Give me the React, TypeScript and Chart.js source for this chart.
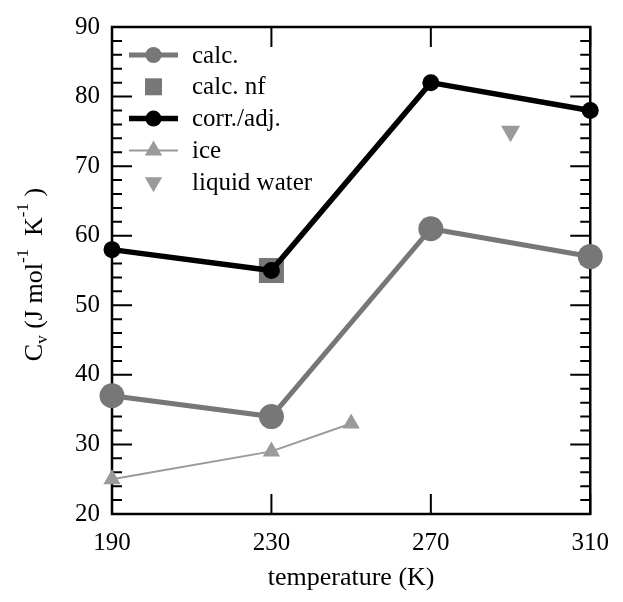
import React, { useEffect, useRef } from 'react';
import { Chart, registerables } from 'chart.js';

Chart.register(...registerables);

const FONT = '"Liberation Serif", serif';

const temps = [190, 230, 270, 310];
const calcValues = [37, 34, 61, 57];
const corrValues = [58, 55, 82, 78];
const calcNfTemps = [230];
const calcNfValues = [55];
const iceTemps = [190, 230, 250];
const iceValues = [25, 29, 33];
const liquidTemps = [290];
const liquidValues = [75];
const xTickValues = [190, 230, 270, 310];
const yMajorStep = 10;
const yMinorStep = 2;
const seriesLabels = ['calc.', 'calc. nf', 'corr./adj.', 'ice', 'liquid water'];
const xTitle = 'temperature (K)';

const toPoints = (xs: number[], ys: number[]) => xs.map((x, i) => ({ x, y: ys[i] }));

function drawMarker(ctx: CanvasRenderingContext2D, style: string, rotation: number, r: number, x: number, y: number) {
  ctx.beginPath();
  if (style === 'circle') {
    ctx.arc(x, y, r, 0, Math.PI * 2);
  } else if (style === 'rect') {
    const s = Math.SQRT1_2 * r;
    ctx.rect(x - s, y - s, 2 * s, 2 * s);
  } else if (style === 'triangle') {
    let rad = (rotation * Math.PI) / 180;
    for (let k = 0; k < 3; k++) {
      const px = x + Math.sin(rad) * r;
      const py = y - Math.cos(rad) * r;
      if (k === 0) ctx.moveTo(px, py);
      else ctx.lineTo(px, py);
      rad += (2 * Math.PI) / 3;
    }
    ctx.closePath();
  }
  ctx.fill();
}

const framePlugin = {
  id: 'frameTicks',
  beforeDatasetsDraw(chart: any) {
    const { ctx, chartArea } = chart;
    const { left, right, top, bottom } = chartArea;
    const xs = chart.scales.x;
    const ys = chart.scales.y;
    ctx.save();
    ctx.strokeStyle = '#000';
    ctx.lineWidth = 2.5;
    ctx.strokeRect(left, top, right - left, bottom - top);
    ctx.lineWidth = 2;
    ctx.beginPath();
    for (const v of xTickValues) {
      const px = xs.getPixelForValue(v);
      ctx.moveTo(px, bottom);
      ctx.lineTo(px, bottom - 20);
      ctx.moveTo(px, top);
      ctx.lineTo(px, top + 20);
    }
    for (let v = ys.min; v <= ys.max + 1e-9; v += yMinorStep) {
      const py = ys.getPixelForValue(v);
      const major = Math.abs(v / yMajorStep - Math.round(v / yMajorStep)) < 1e-6;
      const len = major ? 20 : 10;
      ctx.moveTo(left, py);
      ctx.lineTo(left + len, py);
      ctx.moveTo(right, py);
      ctx.lineTo(right - len, py);
    }
    ctx.stroke();
    ctx.restore();
  },
  afterDraw(chart: any) {
    const { ctx, chartArea } = chart;
    ctx.save();
    // Legend
    const x0 = chartArea.left + 17;
    const lineLen = 49;
    const textX = chartArea.left + 80;
    chart.data.datasets.forEach((ds: any, i: number) => {
      const y = chartArea.top + 28 + i * 31.8;
      if (ds.showLine !== false) {
        ctx.strokeStyle = ds.borderColor;
        ctx.lineWidth = ds.legendLineWidth;
        ctx.beginPath();
        ctx.moveTo(x0, y);
        ctx.lineTo(x0 + lineLen, y);
        ctx.stroke();
      }
      ctx.fillStyle = ds.pointBackgroundColor;
      drawMarker(ctx, ds.pointStyle, ds.pointRotation || 0, ds.legendRadius, x0 + lineLen / 2, y);
      ctx.fillStyle = '#000';
      ctx.font = `25px ${FONT}`;
      ctx.textBaseline = 'middle';
      ctx.textAlign = 'left';
      ctx.fillText(ds.label, textX, y + 1);
    });

    // Y axis title with subscript / superscripts
    const big = 26;
    const small = 17;
    const parts: { t: string; size: number; dy: number }[] = [
      { t: 'C', size: big, dy: 0 },
      { t: 'v', size: small, dy: 5 },
      { t: ' (J mol', size: big, dy: 0 },
      { t: '-1', size: small, dy: -14 },
      { t: '  K', size: big, dy: 0 },
      { t: '-1', size: small, dy: -14 },
      { t: ' )', size: big, dy: 0 },
    ];
    let total = 0;
    const widths = parts.map((p) => {
      ctx.font = `${p.size}px ${FONT}`;
      const w = ctx.measureText(p.t).width;
      total += w;
      return w;
    });
    const cy = (chartArea.top + chartArea.bottom) / 2 + 4;
    ctx.translate(42, cy);
    ctx.rotate(-Math.PI / 2);
    ctx.textBaseline = 'alphabetic';
    ctx.textAlign = 'left';
    ctx.fillStyle = '#000';
    let cx = -total / 2;
    parts.forEach((p, i) => {
      ctx.font = `${p.size}px ${FONT}`;
      ctx.fillText(p.t, cx, p.dy);
      cx += widths[i];
    });
    ctx.restore();
  },
};

export default function App() {
  const canvasRef = useRef<HTMLCanvasElement | null>(null);

  useEffect(() => {
    if (!canvasRef.current) return;
    Chart.defaults.font.family = FONT;
    const grey = '#777777';
    const light = '#9a9a9a';
    const chart = new Chart(canvasRef.current, {
      type: 'line',
      data: {
        datasets: [
          {
            label: seriesLabels[0],
            data: toPoints(temps, calcValues),
            borderColor: grey,
            backgroundColor: grey,
            pointBackgroundColor: grey,
            borderWidth: 5,
            pointRadius: 12.5,
            pointBorderWidth: 0,
            pointStyle: 'circle',
            showLine: true,
            order: 1,
            clip: false,
            legendRadius: 8,
            legendLineWidth: 5,
          } as any,
          {
            label: seriesLabels[1],
            data: toPoints(calcNfTemps, calcNfValues),
            borderColor: grey,
            backgroundColor: grey,
            pointBackgroundColor: grey,
            pointRadius: 17.7,
            pointBorderWidth: 0,
            pointStyle: 'rect',
            showLine: false,
            order: 2,
            clip: false,
            legendRadius: 12,
          } as any,
          {
            label: seriesLabels[2],
            data: toPoints(temps, corrValues),
            borderColor: '#000000',
            backgroundColor: '#000000',
            pointBackgroundColor: '#000000',
            borderWidth: 5.5,
            pointRadius: 8.5,
            pointBorderWidth: 0,
            pointStyle: 'circle',
            showLine: true,
            order: 0,
            clip: false,
            legendRadius: 8,
            legendLineWidth: 5.5,
          } as any,
          {
            label: seriesLabels[3],
            data: toPoints(iceTemps, iceValues),
            borderColor: light,
            backgroundColor: light,
            pointBackgroundColor: light,
            borderWidth: 2,
            pointRadius: 10,
            pointBorderWidth: 0,
            pointStyle: 'triangle',
            showLine: true,
            order: 3,
            clip: false,
            legendRadius: 10,
            legendLineWidth: 2,
          } as any,
          {
            label: seriesLabels[4],
            data: toPoints(liquidTemps, liquidValues),
            borderColor: light,
            backgroundColor: light,
            pointBackgroundColor: light,
            pointRadius: 11,
            pointBorderWidth: 0,
            pointStyle: 'triangle',
            pointRotation: 180,
            showLine: false,
            order: 4,
            clip: false,
            legendRadius: 10,
          } as any,
        ],
      },
      options: {
        animation: false,
        responsive: false,
        layout: { padding: { left: 0, top: 25, right: 23, bottom: 0 } },
        elements: { line: { tension: 0 } },
        plugins: { legend: { display: false }, tooltip: { enabled: false } },
        scales: {
          x: {
            type: 'linear',
            min: 190,
            max: 310,
            afterFit(s: any) {
              s.height = 88;
            },
            afterBuildTicks(s: any) {
              s.ticks = xTickValues.map((v) => ({ value: v }));
            },
            grid: { display: false, drawTicks: false },
            border: { display: false },
            ticks: { font: { family: FONT, size: 25 }, color: '#000', padding: 14, maxRotation: 0 },
            title: {
              display: true,
              text: xTitle,
              font: { family: FONT, size: 26 },
              color: '#000',
              padding: { top: 0, bottom: 8 },
            },
          },
          y: {
            type: 'linear',
            min: 20,
            max: 90,
            afterFit(s: any) {
              s.width = 112;
            },
            grid: { display: false, drawTicks: false },
            border: { display: false },
            ticks: { stepSize: yMajorStep, font: { family: FONT, size: 25 }, color: '#000', padding: 12 },
          },
        },
      } as any,
      plugins: [framePlugin],
    });
    return () => chart.destroy();
  }, []);

  return (
    <div style={{ position: 'absolute', left: 0, top: 0, width: 623, height: 602, background: '#fff' }}>
      <canvas ref={canvasRef} width={623} height={602} />
    </div>
  );
}
